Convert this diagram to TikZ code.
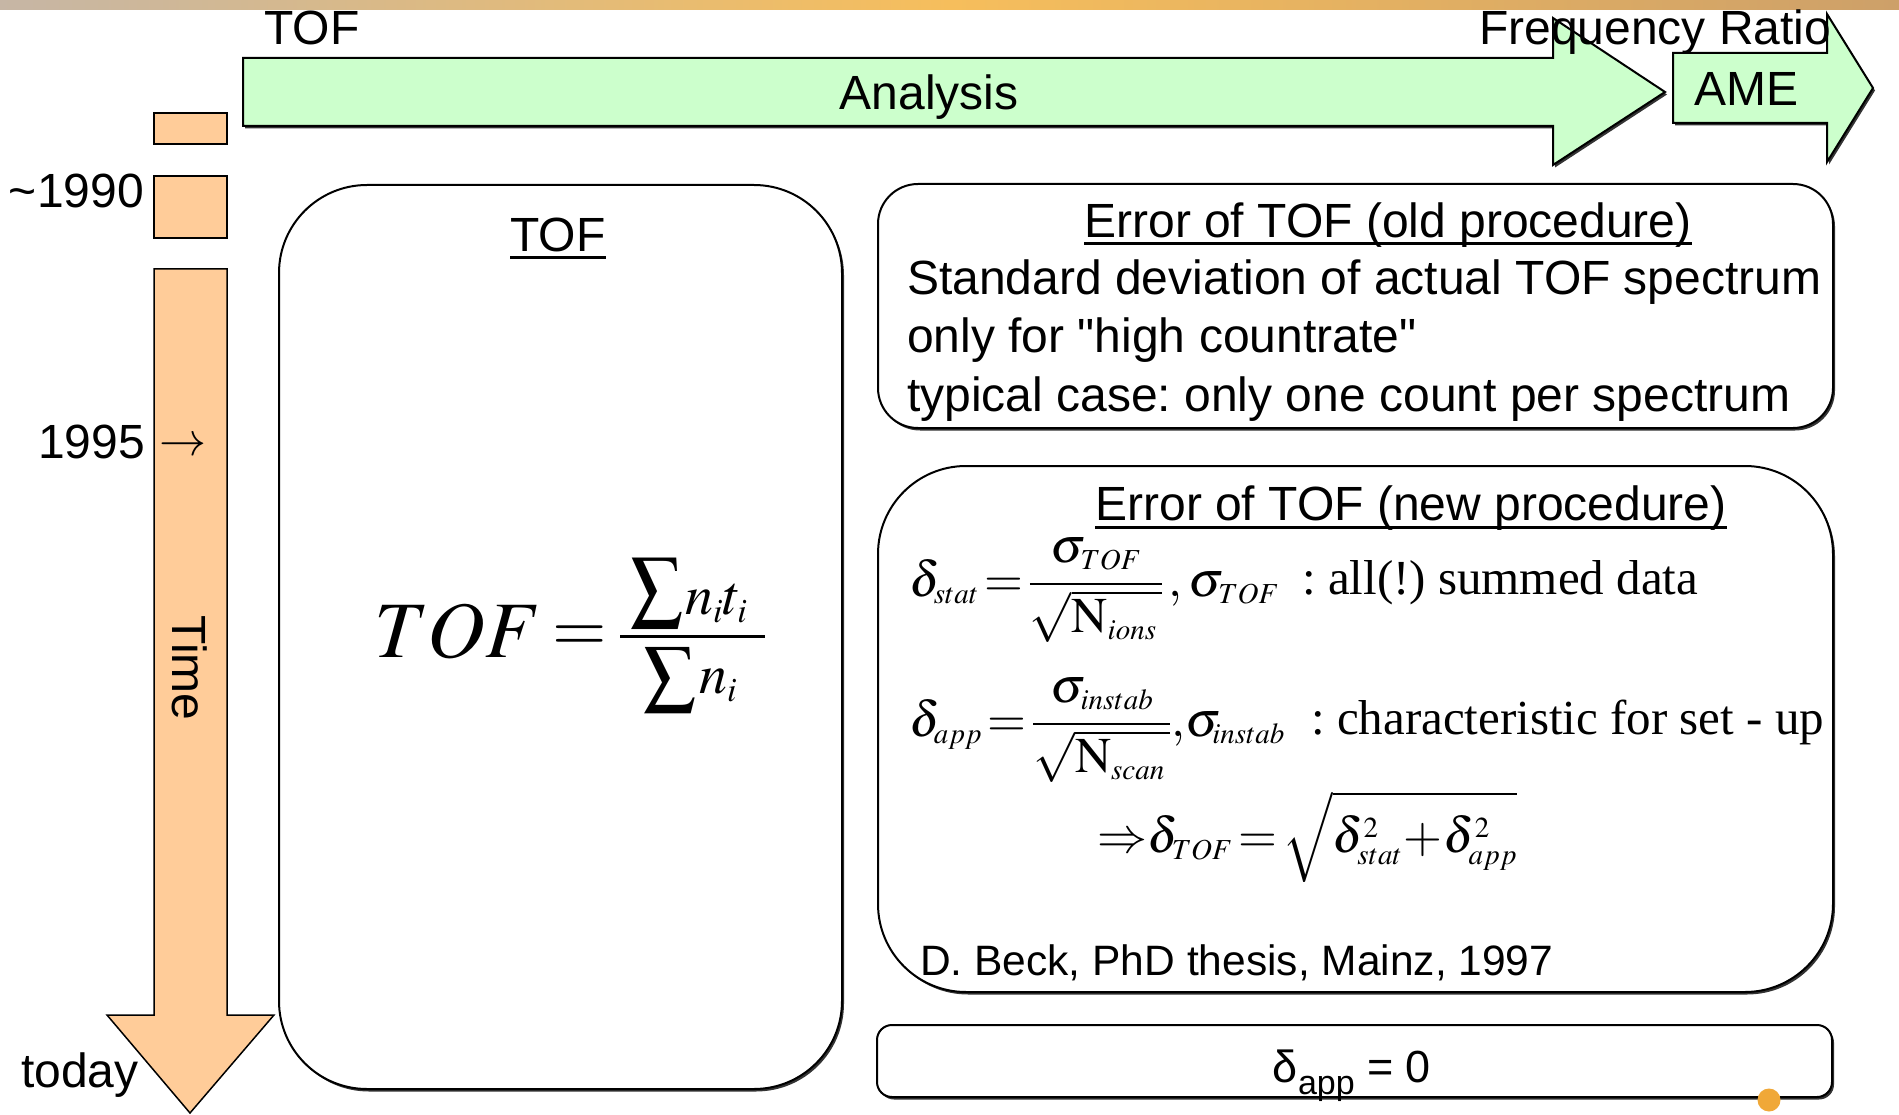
\documentclass[tikz,border=0pt]{standalone}
\usepackage{mathptmx}
\usepackage{graphicx}
\usepackage[no-math]{fontspec}
\setmainfont{Liberation Sans}[Ligatures=TeXOff]
\newfontfamily\tms{Liberation Serif}
\usetikzlibrary{shadows}
\definecolor{orfill}{RGB}{255,204,153}
\definecolor{grfill}{RGB}{204,255,204}
\definecolor{dotc}{RGB}{240,168,56}
\newcommand\myfs[1]{\fontsize{#1}{#1}\selectfont}
\DeclareMathSizes{50}{50}{29}{22}
\DeclareMathSizes{56}{56}{34}{26}
\newsavebox\sigbox
\newcommand\bigsig[2]{\sbox\sigbox{\resizebox*{#1}{#2}{$\textstyle\sum$}}\raisebox{\dp\sigbox}{\usebox\sigbox}}
\frenchspacing
\begin{document}
\begin{tikzpicture}[x=1pt,y=-1pt,line join=miter,
  outl/.style={draw=black,line width=2pt},
  shad/.style={drop shadow={shadow xshift=2pt,shadow yshift=-2.5pt,opacity=0.8,fill=black}},
  txt/.style={inner sep=0pt,font=\myfs{48}},
  mth/.style={inner sep=0pt,font=\myfs{50}},
  ser/.style={inner sep=0pt,font=\tms\myfs{49}},
  ul/.style={line width=3pt}]
\useasboundingbox (0,0) rectangle (1899,1115);
\fill[white] (0,0) rectangle (1899,1115);
% decorative top band
\shade[left color={rgb,255:red,198;green,182;blue,165},right color={rgb,255:red,246;green,190;blue,92}] (0,0) rectangle (950,10);
\shade[left color={rgb,255:red,246;green,190;blue,92},right color={rgb,255:red,205;green,160;blue,105}] (950,0) rectangle (1899,10);
% arrows on top
\draw[outl,fill=grfill,shad] (243,58) -- (1553,58) -- (1553,18) -- (1665,92) -- (1553,165) -- (1553,126) -- (243,126) -- cycle;
\draw[outl,fill=grfill,shad] (1673,53) -- (1827,53) -- (1827,14) -- (1873,88) -- (1827,162) -- (1827,123) -- (1673,123) -- cycle;
\node[txt,anchor=base west] (toflab) at (264,45) {TOF};
\node[txt,anchor=base west] (frlab) at (1479,45) {Frequency Ratio};
\node[txt,anchor=base] (anlab) at (929,110) {Analysis};
\node[txt,anchor=base west] (amelab) at (1694,106) {AME};
% timeline
\draw[draw=black,line width=1.5pt,fill=orfill] (154,113) rectangle (227,144);
\draw[draw=black,line width=1.5pt,fill=orfill] (154,176) rectangle (227,238);
\draw[draw=black,line width=1.5pt,fill=orfill] (154,269) -- (227,269) -- (227,1015) -- (274,1015) -- (190,1113) -- (107,1015) -- (154,1015) -- cycle;
\node[txt,anchor=base east] (y90) at (144,208) {\char"7E 1990};
\node[txt,anchor=base east] (y95) at (145,458) {1995};
\node[inner sep=0pt,font=\myfs{47}] (arr95) at (183,447) {$\rightarrow$};
\node[txt,rotate=-90] (timelab) at (190,668) {Time};
\node[txt,anchor=base west] (todaylab) at (21,1087) {today};
% TOF box
\draw[outl,fill=white,shad,rounded corners=88pt] (279,185) rectangle (842,1089);
\node[txt,anchor=base] (toft) at (558,252) {TOF};
\draw[ul] ([yshift=-6pt]toft.base west) -- ([yshift=-6pt]toft.base east);
\node[inner sep=0pt,anchor=base west,font=\myfs{80}] (tofeq) at (374,657) {$TOF$};
\node[inner sep=0pt,anchor=base,font=\myfs{70}] (tofeqs) at (580,651) {$=$};
\draw[line width=3pt] (620,636) -- (765,636);
\node[inner sep=0pt,anchor=south west] (numsig) at (630,628) {\bigsig{53pt}{70pt}};
\node[inner sep=0pt,anchor=base west,font=\myfs{56}] (numtxt) at (685,614) {$n_i t_i$};
\node[inner sep=0pt,anchor=south west] (densig) at (643,713) {\bigsig{53pt}{65pt}};
\node[inner sep=0pt,anchor=base west,font=\myfs{56}] (dentxt) at (699,693) {$n_i$};
% old procedure box
\draw[outl,fill=white,shad,rounded corners=40pt] (878,184) rectangle (1833,428);
\node[txt,anchor=base] (oldt) at (1388,238) {Error of TOF (old procedure)};
\draw[ul] ([yshift=-6pt]oldt.base west) -- ([yshift=-6pt]oldt.base east);
\node[txt,anchor=base west] (old1) at (907,295) {Standard deviation of actual TOF spectrum};
\node[txt,anchor=base west] (old2) at (907,353) {only for "high countrate"};
\node[txt,anchor=base west] (old3) at (907,411) {typical case: only one count per spectrum};
% new procedure box
\draw[outl,fill=white,shad,rounded corners=88pt] (878,466) rectangle (1833,992);
\node[txt,anchor=base] (newt) at (1411,520) {Error of TOF (new procedure)};
\draw[ul] ([yshift=-7pt]newt.base west) -- ([yshift=-7pt]newt.base east);
\node[mth,anchor=base west] (row1) at (909,596) {$\displaystyle \delta_{stat}\!=\!\frac{\sigma_{TOF}}{\sqrt{\mathrm{N}_{ions}\,}}\,,\sigma_{TOF}$};
\node[ser,anchor=base west] (row1t) at (1302,594) {: all(!) summed data};
\node[mth,anchor=base west] (row2) at (909,736) {$\displaystyle \delta_{app}\!=\!\frac{\sigma_{instab}}{\sqrt{\mathrm{N}_{scan}\,}},\!\sigma_{\!instab}$};
\node[ser,anchor=base west] (row2t) at (1311,734) {: characteristic for set - up};
\node[mth,anchor=base west] (row3) at (1097,852) {$\displaystyle \mathord{\Rightarrow}\delta_{TOF}\!=\!\sqrt{\delta_{stat}^2\!+\!\delta_{app}^2}$};
\node[txt,anchor=base west,font=\myfs{42.5}] (beck) at (920,975) {D. Beck, PhD thesis, Mainz, 1997};
% delta_app = 0 box
\draw[outl,fill=white,shad,rounded corners=15pt] (877,1025) rectangle (1832,1097);
\node[inner sep=0pt,anchor=base,font=\myfs{45}] (dapp) at (1352,1082) {δ\raisebox{-12pt}{\myfs{34}app} = 0};
\fill[dotc] (1769,1100) circle (11.5);
\end{tikzpicture}
\end{document}
